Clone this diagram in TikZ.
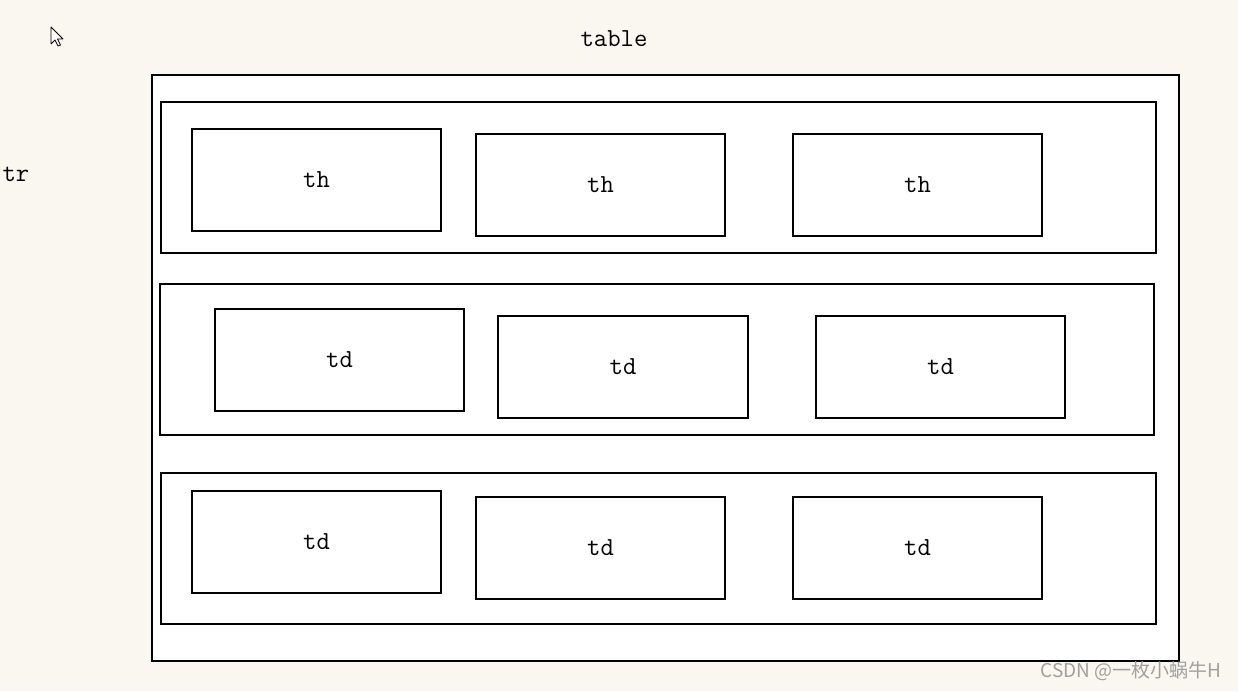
\documentclass[tikz,border=0pt]{standalone}
\usepackage{fontspec}
\newfontfamily\cjk{Noto Sans CJK SC}
\definecolor{paper}{HTML}{FAF7F0}
\definecolor{mark}{HTML}{A0A0A0}
\begin{document}
\begin{tikzpicture}[x=1pt, y=-1pt,
    every node/.style={font=\ttfamily\fontsize{26}{26}\selectfont, inner sep=0pt},
    cellbox/.style={draw, line width=2pt, fill=white, minimum width=249pt, minimum height=102pt},
    rowbox/.style={draw, line width=2pt, fill=white, minimum width=995pt, minimum height=151pt}]
    \fill[paper] (0,0) rectangle (1238,691);
    \useasboundingbox (0,0) rectangle (1238,691);

    % table and rows
    \node[draw, line width=2pt, fill=white, minimum width=1027pt, minimum height=586pt] (tbl) at (665.5, 368) {};
    \node[rowbox] (row1) at (658.5, 177.5) {};
    \node[rowbox, minimum width=994pt] (row2) at (657, 359) {};
    \node[rowbox] (row3) at (658.5, 548) {};

    % cells
    \node[cellbox] (h1) at (316.5, 179.5) {th};
    \node[cellbox] (h2) at (600.5, 185)   {th};
    \node[cellbox] (h3) at (917.5, 185)   {th};
    \node[cellbox] (d1) at (339.5, 360)   {td};
    \node[cellbox, minimum width=250pt] (d2) at (623, 366.5) {td};
    \node[cellbox] (d3) at (940.5, 366.5) {td};
    \node[cellbox] (e1) at (316.5, 542)   {td};
    \node[cellbox] (e2) at (600.5, 548)   {td};
    \node[cellbox] (e3) at (917.5, 548)   {td};

    % labels
    \node (tbllabel) at (614, 39)  {table};
    \node (trlabel)  at (16, 174)  {tr};
    \node[font=\cjk\fontsize{19}{19}\selectfont, text=mark] (credit) at (1131, 671) {CSDN @一枚小蜗牛H};

    % cursor
    \draw[fill=white, line width=0.8pt, line join=round]
      (51,27) -- (51,44) -- (55,40) -- (58,46) -- (60.5,45) -- (57.5,39) -- (63,39) -- cycle;
  \end{tikzpicture}
\end{document}
